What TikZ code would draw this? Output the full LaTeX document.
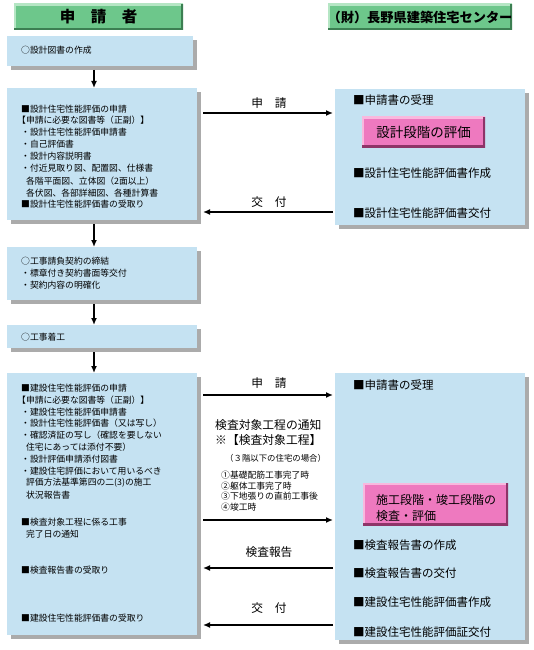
\documentclass[tikz,border=0pt]{standalone}
\usepackage{fontspec}
\setmainfont{Noto Sans CJK JP}
\usetikzlibrary{arrows.meta,shadows}
\definecolor{boxblue}{HTML}{C5E2F2}
\definecolor{hgreen}{HTML}{6DC78B}
\definecolor{hgreenL}{HTML}{B5E6C4}
\definecolor{hgreenD}{HTML}{3C7F52}
\definecolor{pinkc}{HTML}{EE79BF}
\definecolor{pinkL}{HTML}{F9B8DE}
\definecolor{pinkD}{HTML}{8E3468}
\newcommand{\fsz}[1]{\fontsize{#1}{#1}\selectfont}
\tikzset{
  bluebox/.style={fill=boxblue, anchor=north west, inner sep=0pt, outer sep=0pt,
    drop shadow={shadow xshift=4pt, shadow yshift=-4pt, fill=black!65}},
  bevel/.style 2 args={path picture={
    \draw[line width=4pt,#1] (path picture bounding box.south west) -- (path picture bounding box.north west) -- (path picture bounding box.north east);
    \draw[line width=4pt,#2] (path picture bounding box.north east) -- (path picture bounding box.south east) -- (path picture bounding box.south west);}},
  hdr/.style={fill=hgreen, bevel={hgreenL}{hgreenD}, anchor=north west, inner sep=0pt, outer sep=0pt},
  pinkbox/.style={fill=pinkc, bevel={pinkL}{pinkD}, anchor=north west, inner sep=0pt, outer sep=0pt},
  lt/.style={anchor=west, inner sep=0pt, font=\fsz{8.8}},
  rt/.style={anchor=west, inner sep=0pt, font=\fsz{11.5}},
  lab/.style={inner sep=0pt, font=\fsz{11.7}},
  arr/.style={line width=1.5pt, -{Latex[length=7pt,width=6pt]}},
}
\begin{document}
\begin{tikzpicture}[x=1pt,y=-1pt]
\useasboundingbox[fill=white] (0,0) rectangle (534,650);
% headers
\node[hdr, minimum width=169pt, minimum height=26pt] (h1) at (14,4) {};
\node[font=\fsz{15.5}\bfseries, inner sep=0pt] (h1t) at (h1.center) {申　請　者};
\node[hdr, minimum width=184pt, minimum height=26pt] (h2) at (328,4) {};
\node[font=\fsz{13.2}\bfseries, inner sep=0pt] (h2t) at (h2.center) {（財）長野県建築住宅センター};
% left boxes
\node[bluebox, minimum width=186pt, minimum height=30pt] (b1) at (7,36) {};
\node[bluebox, minimum width=190pt, minimum height=132pt] (b2) at (7,88) {};
\node[bluebox, minimum width=190pt, minimum height=53pt] (b3) at (7,247) {};
\node[bluebox, minimum width=190pt, minimum height=23pt] (b4) at (7,325) {};
\node[bluebox, minimum width=190pt, minimum height=262pt] (b5) at (7,373) {};
% right boxes
\node[bluebox, minimum width=190pt, minimum height=136pt] (r1) at (335,89) {};
\node[bluebox, minimum width=190pt, minimum height=267pt] (r2) at (335,373) {};
\node[pinkbox, minimum width=123pt, minimum height=30pt] (p1) at (362,117) {};
\node[font=\fsz{13.5}, inner sep=0pt] (p1t) at (p1.center) {設計段階の評価};
\node[pinkbox, minimum width=145pt, minimum height=42pt] (p2) at (363,483) {};
\node[anchor=west, inner sep=0pt, font=\fsz{12}] (p2a) at (376,500) {施工段階・竣工段階の};
\node[anchor=west, inner sep=0pt, font=\fsz{12}] (p2b) at (376,516) {検査・評価};
% left texts
\node[lt] (t1) at (21,50) {○設計図書の作成};
\node[lt] (t2a) at (21,109) {■設計住宅性能評価の申請};
\node[lt] (t2b) at (17,120) {【申請に必要な図書等（正副）】};
\node[lt] (t2c) at (21,132) {・設計住宅性能評価申請書};
\node[lt] (t2d) at (21,144) {・自己評価書};
\node[lt] (t2e) at (21,156) {・設計内容説明書};
\node[lt] (t2f) at (21,168) {・付近見取り図、配置図、仕様書};
\node[lt] (t2g) at (26,181) {各階平面図、立体図（2面以上）};
\node[lt] (t2h) at (26,193) {各伏図、各部詳細図、各種計算書};
\node[lt] (t2i) at (21,204) {■設計住宅性能評価書の受取り};
\node[lt] (t3a) at (21,261) {○工事請負契約の締結};
\node[lt] (t3b) at (21,273) {・標章付き契約書面等交付};
\node[lt] (t3c) at (21,285) {・契約内容の明確化};
\node[lt] (t4) at (21,337) {○工事着工};
\node[lt] (t5a) at (21,388) {■建設住宅性能評価の申請};
\node[lt] (t5b) at (17,400) {【申請に必要な図書等（正副）】};
\node[lt] (t5c) at (21,412) {・建設住宅性能評価申請書};
\node[lt] (t5d) at (21,423) {・設計住宅性能評価書（又は写し）};
\node[lt] (t5e) at (21,435) {・確認済証の写し（確認を要しない};
\node[lt] (t5f) at (26,447) {住宅にあっては添付不要）};
\node[lt] (t5g) at (21,459) {・設計評価申請添付図書};
\node[lt] (t5h) at (21,471) {・建設住宅評価において用いるべき};
\node[lt] (t5i) at (26,483) {評価方法基準第四の二(3)の施工};
\node[lt] (t5j) at (26,495) {状況報告書};
\node[lt] (t5k) at (21,522) {■検査対象工程に係る工事};
\node[lt] (t5l) at (26,534) {完了日の通知};
\node[lt] (t5m) at (21,570) {■検査報告書の受取り};
\node[lt] (t5n) at (21,618) {■建設住宅性能評価書の受取り};
% right texts
\node[rt] (s1a) at (353,100) {■申請書の受理};
\node[rt] (s1b) at (353,173) {■設計住宅性能評価書作成};
\node[rt] (s1c) at (353,213) {■設計住宅性能評価書交付};
\node[rt] (s2a) at (353,385) {■申請書の受理};
\node[rt] (s2b) at (353,545) {■検査報告書の作成};
\node[rt] (s2c) at (353,573) {■検査報告書の交付};
\node[rt] (s2d) at (353,602) {■建設住宅性能評価書作成};
\node[rt] (s2e) at (353,632) {■建設住宅性能評価証交付};
% vertical arrows
\coordinate (xa) at (94,0);
\draw[arr, shorten <=4pt] (b1.south -| xa) -- (b2.north -| xa);
\draw[arr, shorten <=4pt] (b2.south -| xa) -- (b3.north -| xa);
\draw[arr, shorten <=4pt] (b3.south -| xa) -- (b4.north -| xa);
\draw[arr, shorten <=4pt] (b4.south -| xa) -- (b5.north -| xa);
% horizontal arrows
\coordinate (y1) at (0,113);
\coordinate (y2) at (0,212);
\coordinate (y3) at (0,395);
\coordinate (y4) at (0,520);
\coordinate (y5) at (0,568);
\coordinate (y6) at (0,625);
\draw[arr, shorten <=6pt, shorten >=2pt] (b2.east |- y1) -- (r1.west |- y1);
\draw[arr, shorten <=2pt, shorten >=6pt] (r1.west |- y2) -- (b2.east |- y2);
\draw[arr, shorten <=6pt, shorten >=2pt] (b5.east |- y3) -- (r2.west |- y3);
\draw[arr, shorten <=6pt, shorten >=2pt] (b5.east |- y4) -- (r2.west |- y4);
\draw[arr, shorten <=2pt, shorten >=6pt] (r2.west |- y5) -- (b5.east |- y5);
\draw[arr, shorten <=2pt, shorten >=6pt] (r2.west |- y6) -- (b5.east |- y6);
% arrow labels
\node[lab] (l1) at (269,103) {申　請};
\node[lab] (l2) at (269,202) {交　付};
\node[lab] (l3) at (269,383) {申　請};
\node[lab] (l5) at (269,552) {検査報告};
\node[lab] (l6) at (269,608) {交　付};
\node[anchor=west, inner sep=0pt, font=\fsz{11.8}] (k1) at (215,425) {検査対象工程の通知};
\node[anchor=west, inner sep=0pt, font=\fsz{11.8}] (k2) at (215,440) {※【検査対象工程】};
\node[anchor=west, inner sep=0pt, font=\fsz{8.4}] (k3) at (225,458) {（３階以下の住宅の場合）};
\node[anchor=west, inner sep=0pt, font=\fsz{8.8}] (k4) at (221,475) {①基礎配筋工事完了時};
\node[anchor=west, inner sep=0pt, font=\fsz{8.8}] (k5) at (221,486) {②躯体工事完了時};
\node[anchor=west, inner sep=0pt, font=\fsz{8.8}] (k6) at (221,496) {③下地張りの直前工事後};
\node[anchor=west, inner sep=0pt, font=\fsz{8.8}] (k7) at (221,507) {④竣工時};
\end{tikzpicture}
\end{document}
